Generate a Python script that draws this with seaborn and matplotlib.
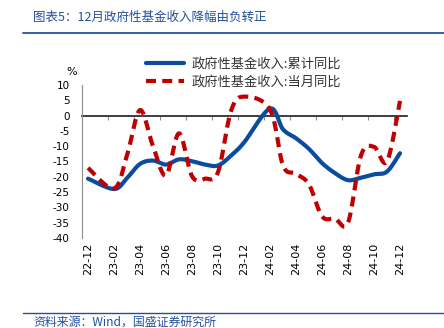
import numpy as np
import pandas as pd
import matplotlib
matplotlib.use("Agg")
import matplotlib.pyplot as plt
from matplotlib.lines import Line2D
import seaborn as sns

# ---------------- data ----------------
months = ["22-12", "23-01", "23-02", "23-03", "23-04", "23-05", "23-06", "23-07",
          "23-08", "23-09", "23-10", "23-11", "23-12", "24-01", "24-02", "24-03",
          "24-04", "24-05", "24-06", "24-07", "24-08", "24-09", "24-10", "24-11", "24-12"]
cum_yoy = [-20.6, np.nan, -24.0, -20.4, -15.8, -14.7, -16.0, -14.3,
           -14.9, -16.0, -16.3, -13.1, -8.8, np.nan, 2.3, -4.5,
           -7.4, -10.9, -15.5, -18.8, -21.1, -20.3, -19.2, -18.3, -12.3]
month_yoy = [-17.1, np.nan, -23.8, -13.0, 1.8, -10.0, -19.6, -5.8,
             -19.8, -20.6, -18.5, 1.5, 6.2, np.nan, 2.0, -16.3,
             -19.0, -22.5, -32.9, -33.7, -35.0, -13.0, -10.2, -15.0, 4.8]
series_names = ["政府性基金收入:累计同比", "政府性基金收入:当月同比"]
tick_labels = months[::2]
yticks = list(range(-40, 11, 5))

title = "图表5：12月政府性基金收入降幅由负转正"
source = "资料来源：Wind，国盛证券研究所"

BLUE = "#0B4C9E"
RED = "#C00000"
TITLE_BLUE = "#24509A"
GRAY = "#8C8C8C"
CJK = ["Noto Sans CJK SC", "DejaVu Sans"]


def smooth_curve(x, y, n=30):
    """Excel-style smoothed line (Bezier through the data points)."""
    x = np.asarray(x, float)
    y = np.asarray(y, float)
    m = ~np.isnan(y)
    P = np.column_stack([x[m], y[m]])
    out = [P[0]]
    t = np.linspace(0, 1, n)[1:, None]
    for i in range(len(P) - 1):
        p0 = P[i - 1] if i > 0 else P[i]
        p1, p2 = P[i], P[i + 1]
        p3 = P[i + 2] if i + 2 < len(P) else P[i + 1]
        c1 = p1 + (p2 - p0) / 6.0
        c2 = p2 - (p3 - p1) / 6.0
        B = (1 - t) ** 3 * p1 + 3 * (1 - t) ** 2 * t * c1 + 3 * (1 - t) * t ** 2 * c2 + t ** 3 * p2
        out.extend(B)
    return np.array(out)


xpos = np.arange(len(months))
frames = []
for name, vals in zip(series_names, [cum_yoy, month_yoy]):
    c = smooth_curve(xpos, vals)
    frames.append(pd.DataFrame({"x": c[:, 0], "y": c[:, 1], "series": name}))
df = pd.concat(frames, ignore_index=True)

# ---------------- figure ----------------
sns.set_theme(style="white")
plt.rcParams["font.family"] = ["DejaVu Sans", "Noto Sans CJK SC"]

W, H = 444, 328
fig = plt.figure(figsize=(W / 100, H / 100), dpi=100)
fig.patch.set_facecolor("white")
ax = fig.add_axes([81.5 / W, (H - 238) / H, 325 / W, 153 / H])

sns.lineplot(data=df[df.series == series_names[0]], x="x", y="y", ax=ax,
             color=BLUE, linewidth=3.0, sort=False, estimator=None,
             label=series_names[0], legend=False)
sns.lineplot(data=df[df.series == series_names[1]], x="x", y="y", ax=ax,
             color=RED, linewidth=3.0, sort=False, estimator=None,
             label=series_names[1], legend=False)
ax.lines[1].set_dashes([2.4, 1.5])
ax.lines[1].set_dash_capstyle("butt")

ax.set_xlim(-0.5, len(months) - 0.5)
ax.set_ylim(-40, 10)
ax.set_xlabel("")
ax.set_ylabel("")

for s in ["top", "right", "bottom"]:
    ax.spines[s].set_visible(False)
ax.spines["left"].set_color(GRAY)
ax.spines["left"].set_linewidth(0.8)

ax.set_xticks(xpos[::2])
ax.set_xticklabels(tick_labels, rotation=90)
ax.tick_params(axis="x", length=0, pad=3.6, labelsize=8, labelcolor="#000000")
ax.set_yticks(yticks)
ax.set_yticklabels([str(v) for v in yticks])
ax.tick_params(axis="y", direction="in", length=3, width=0.8, color=GRAY,
               pad=8.5, labelsize=7.5, labelcolor="#000000")

# zero axis line with category-boundary ticks
sec = ax.secondary_xaxis(40 / 50)
sec.set_xticks(np.arange(-0.5, len(months) - 1, 2))
sec.set_xticklabels([])
sec.tick_params(axis="x", direction="in", length=3, width=0.8, color=GRAY)
sec.spines["bottom"].set_color(GRAY)
sec.spines["bottom"].set_linewidth(0.8)

# legend
handles = [Line2D([], [], color=BLUE, lw=3.0),
           Line2D([], [], color=RED, lw=3.0, dashes=[2.4, 1.5], dash_capstyle="butt")]
leg = fig.legend(handles, series_names, loc="upper left",
                 bbox_to_anchor=(146 / W, 1 - 58 / H), frameon=False,
                 handlelength=2.9, handletextpad=0.55, labelspacing=0.36,
                 borderpad=0, borderaxespad=0,
                 prop={"family": CJK, "size": 9.5})
for t in leg.get_texts():
    t.set_color("#333333")

# % label
fig.text(72 / W, 1 - 72 / H, "%", ha="center", va="center", fontsize=8, color="#000000")

# title, rules and source
fig.text(33 / W, 1 - 17 / H, title, ha="left", va="center", fontsize=9,
         color=TITLE_BLUE, family=CJK, style="italic")
fig.add_artist(Line2D([23 / W, 1.0], [1 - 33 / H] * 2, color=TITLE_BLUE, lw=1.3,
                      transform=fig.transFigure))
fig.add_artist(Line2D([23 / W, 1.0], [1 - 313 / H] * 2, color=TITLE_BLUE, lw=1.0,
                      transform=fig.transFigure))
fig.text(33 / W, 1 - 322 / H, source, ha="left", va="center", fontsize=8.6,
         color=TITLE_BLUE, family=CJK, style="italic")

fig.savefig("out.png", dpi=100, facecolor="white")
